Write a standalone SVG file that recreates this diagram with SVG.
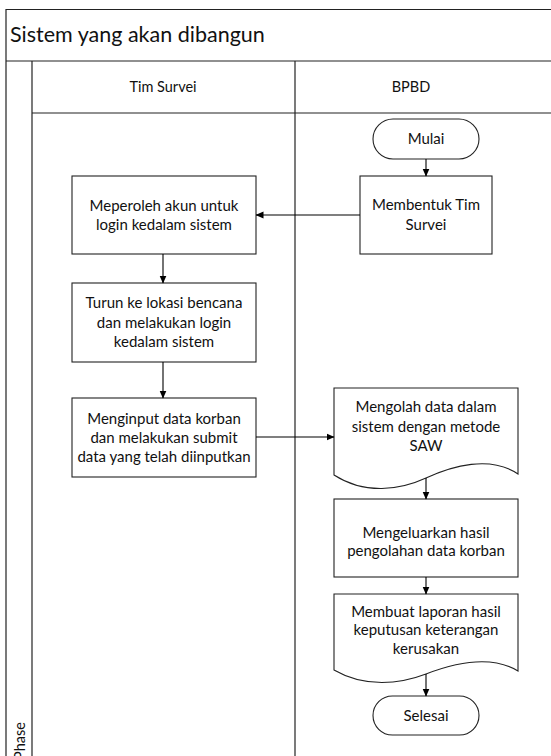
<svg xmlns="http://www.w3.org/2000/svg" width="551" height="756" viewBox="0 0 551 756">
  <style>
    .frame { fill: none; stroke: #222; stroke-width: 1.2; }
    .shape { fill: #fff; stroke: #222; stroke-width: 1.1; }
    .conn { fill: none; stroke: #000; stroke-width: 1.1; marker-end: url(#arrow); }
    text { font-family: "Lato", "Liberation Sans", sans-serif; fill: #111; }
    .title { font-size: 21.5px; }
    .lane { font-size: 14.5px; text-anchor: middle; }
    .lbl { font-size: 15px; text-anchor: middle; }
  </style>
  <defs>
    <marker id="arrow" markerWidth="8" markerHeight="8" refX="7.5" refY="4" orient="auto" markerUnits="userSpaceOnUse">
      <path d="M0,0.5 L8,4 L0,7.5 Z" fill="#000"/>
    </marker>
  </defs>

  <rect width="551" height="756" fill="#fff"/>

  <!-- pool and lanes -->
  <g id="pool">
    <path class="frame" d="M6,756 V9.5 H551"/>
    <line class="frame" x1="6" y1="61" x2="551" y2="61"/>
    <line class="frame" x1="32" y1="61" x2="32" y2="756"/>
    <line class="frame" x1="32" y1="113" x2="551" y2="113"/>
    <line class="frame" x1="295" y1="61" x2="295" y2="756"/>
    <text class="title" x="10" y="42">Sistem yang akan dibangun</text>
    <text class="lane" x="163" y="92">Tim Survei</text>
    <text class="lane" x="411" y="92">BPBD</text>
    <text class="lane" transform="translate(25,741) rotate(-90)">Phase</text>
  </g>

  <!-- process nodes -->
  <g id="mulai">
    <rect class="shape" x="373" y="119" width="106" height="40" rx="20" ry="20"/>
    <text class="lbl" x="426" y="144">Mulai</text>
  </g>
  <g id="membentuk-tim">
    <rect class="shape" x="360" y="176" width="132" height="78"/>
    <text class="lbl" x="426" y="210">Membentuk Tim</text>
    <text class="lbl" x="426" y="230">Survei</text>
  </g>
  <g id="meperoleh-akun">
    <rect class="shape" x="72" y="176" width="184" height="78"/>
    <text class="lbl" x="164" y="211">Meperoleh akun untuk</text>
    <text class="lbl" x="164" y="230">login kedalam sistem</text>
  </g>
  <g id="turun-lokasi">
    <rect class="shape" x="72" y="283" width="184" height="79"/>
    <text class="lbl" x="164" y="308">Turun ke lokasi bencana</text>
    <text class="lbl" x="164" y="328">dan melakukan login</text>
    <text class="lbl" x="164" y="347">kedalam sistem</text>
  </g>
  <g id="menginput-data">
    <rect class="shape" x="72" y="398" width="184" height="79"/>
    <text class="lbl" x="164" y="424">Menginput data korban</text>
    <text class="lbl" x="164" y="443">dan melakukan submit</text>
    <text class="lbl" x="164" y="462">data yang telah diinputkan</text>
  </g>
  <g id="mengolah-data">
    <path class="shape" d="M334,388 H518 V474 C490,455 452,466 426,478 C400,490 365,495 334,475 Z"/>
    <text class="lbl" x="426" y="412">Mengolah data dalam</text>
    <text class="lbl" x="426" y="432">sistem dengan metode</text>
    <text class="lbl" x="426" y="451">SAW</text>
  </g>
  <g id="mengeluarkan-hasil">
    <rect class="shape" x="334" y="499" width="184" height="78"/>
    <text class="lbl" x="426" y="538">Mengeluarkan hasil</text>
    <text class="lbl" x="426" y="556">pengolahan data korban</text>
  </g>
  <g id="membuat-laporan">
    <path class="shape" d="M334,594 H518 V671 C490,654 452,664 426,674 C400,684 365,688 334,670 Z"/>
    <text class="lbl" x="426" y="617">Membuat laporan hasil</text>
    <text class="lbl" x="426" y="635">keputusan keterangan</text>
    <text class="lbl" x="426" y="654">kerusakan</text>
  </g>
  <g id="selesai">
    <rect class="shape" x="373" y="696" width="106" height="39" rx="19.5" ry="19.5"/>
    <text class="lbl" x="426" y="721">Selesai</text>
  </g>

  <!-- connectors -->
  <g id="connectors">
    <line class="conn" x1="426" y1="159" x2="426" y2="176"/>
    <line class="conn" x1="360" y1="215" x2="256" y2="215"/>
    <line class="conn" x1="163" y1="254" x2="163" y2="283"/>
    <line class="conn" x1="163" y1="362" x2="163" y2="398"/>
    <line class="conn" x1="256" y1="437" x2="334" y2="437"/>
    <line class="conn" x1="426" y1="478" x2="426" y2="499"/>
    <line class="conn" x1="426" y1="577" x2="426" y2="594"/>
    <line class="conn" x1="426" y1="674" x2="426" y2="696"/>
  </g>
</svg>
